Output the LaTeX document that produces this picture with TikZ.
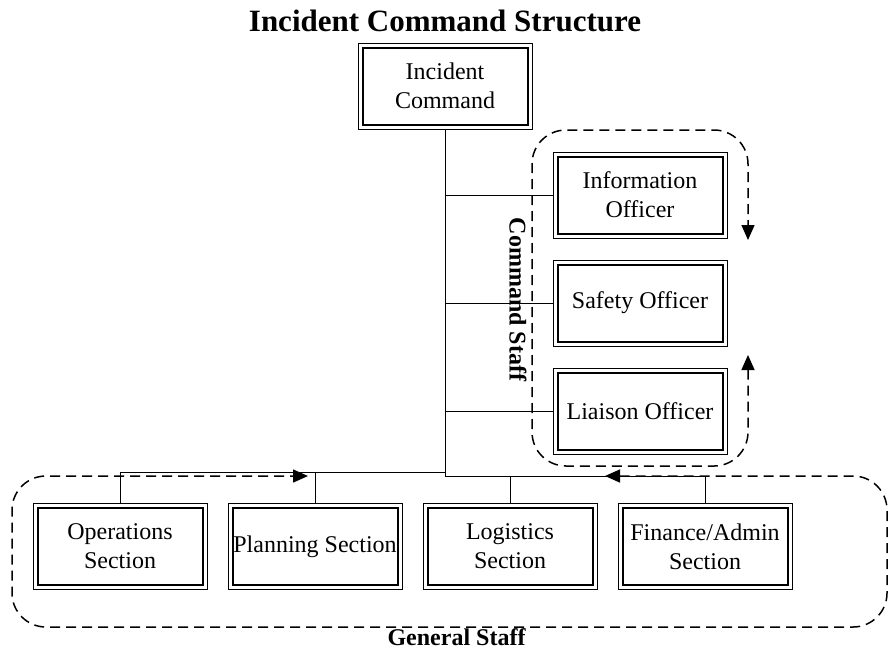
\documentclass[tikz,border=0pt]{standalone}
\usepackage{fontspec}
\setmainfont{Liberation Serif}
\usetikzlibrary{positioning,arrows.meta}
\tikzset{
>={Triangle[length=15pt,width=13pt]},
  unitbox/.style={
    rectangle,
    draw=black, line width=1pt,
    minimum width=174pt,
    minimum height=86pt,
    inner sep=0pt, outer sep=0pt,
    align=center,
    font=\fontsize{24}{29}\selectfont,
    append after command={\pgfextra{
      \draw[line width=2pt]
        ([shift={(4.5pt,-4.5pt)}]\tikzlastnode.north west) rectangle
        ([shift={(-4.5pt,4.5pt)}]\tikzlastnode.south east);}}},
  tree/.style={draw, line width=1pt},
  staffline/.style={draw, line width=1.5pt, dash pattern=on 10pt off 6pt,
    rounded corners=34pt, <->},
  stafflabel/.style={font=\fontsize{24}{29}\selectfont\bfseries}
}
\begin{document}
\begin{tikzpicture}
  [x=1pt, y=-1pt]
  \useasboundingbox (0,0) rectangle (890,649);

  \node[font=\fontsize{31}{36}\selectfont\bfseries, anchor=base] (title) at (445,31)
    {Incident Command Structure};

  \node[unitbox] (ic) at (445,86) {Incident\\Command};

  % command staff
  \node[unitbox] (info) at (640,195) {Information\\Officer};
  \node[unitbox, below=22pt of info] (safety) {Safety Officer};
  \node[unitbox, below=22pt of safety] (liaison) {Liaison Officer};

  % general staff
  \node[unitbox] (ops) at (120,546.5) {Operations\\Section};
  \node[unitbox, right=21pt of ops] (plan) {Planning Section};
  \node[unitbox, right=21pt of plan] (log) {Logistics\\Section};
  \node[unitbox, right=21pt of log] (fin) {Finance/Admin\\Section};

  \coordinate (hubL) at (445,472);
  \coordinate (hubR) at (445,476);

  \draw[tree] (ic.south) -- (hubR);
  \foreach \n in {info,safety,liaison}
    \draw[tree] (\n.west) -- (\n.west -| ic.south);
  \foreach \n in {ops,plan}
    \draw[tree] (\n.north) |- (hubL);
  \foreach \n in {log,fin}
    \draw[tree] (\n.north) |- (hubR);

  \draw[staffline] (748,355) -- (748,466) -- (532,466) -- (532,130)
    -- (748,130) -- (748,240);
  \draw[staffline] (605,476) -- (887,476) -- (887,627) -- (12,627)
    -- (12,476) -- (308,476);

  \node[stafflabel, rotate=-90] (cmdstaff) at (518,299.5) {Command Staff};
  \node[stafflabel, anchor=base] (genstaff) at (456.5,645) {General Staff};
\end{tikzpicture}
\end{document}
